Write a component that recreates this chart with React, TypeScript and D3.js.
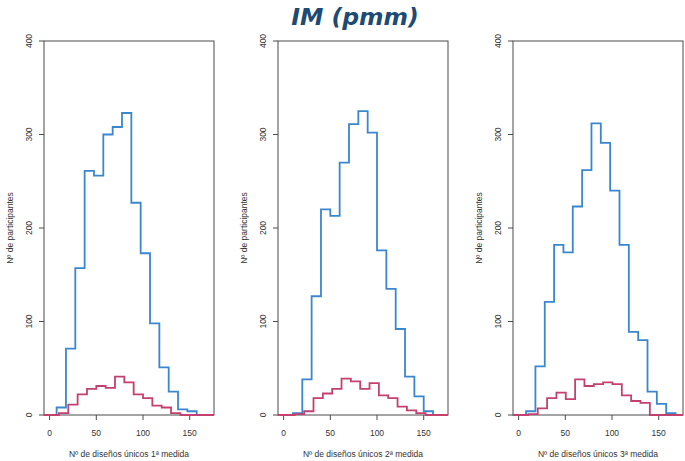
import React from "react";
import * as d3 from "d3";

// Histogram bins: edges of width 10 from 0 to 170
const binEdges = [0, 10, 20, 30, 40, 50, 60, 70, 80, 90, 100, 110, 120, 130, 140, 150, 160, 170];

// Counts per bin, first / second / third measurement
const blue1 = [0, 8, 71, 157, 261, 256, 300, 308, 323, 227, 173, 98, 51, 25, 6, 4, 0];
const pink1 = [0, 2, 11, 22, 28, 31, 29, 41, 35, 22, 18, 10, 8, 2, 0, 0, 0];
const blue2 = [0, 2, 38, 127, 220, 213, 270, 311, 325, 302, 176, 135, 92, 41, 20, 4, 0];
const pink2 = [0, 1, 4, 18, 23, 28, 39, 36, 28, 34, 21, 18, 9, 5, 2, 0, 0];
const blue3 = [0, 4, 52, 121, 182, 174, 223, 262, 312, 291, 240, 182, 89, 80, 25, 12, 2];
const pink3 = [0, 1, 7, 18, 24, 17, 38, 31, 33, 35, 33, 21, 15, 13, 0, 0, 0];

const xTicks = [0, 50, 100, 150];
const yTicks = [0, 100, 200, 300, 400];
const xTitles = [
  "Nº de diseños únicos 1ª medida",
  "Nº de diseños únicos 2ª medida",
  "Nº de diseños únicos 3ª medida",
];
const yTitle = "Nº de participantes";
const title = "IM (pmm)";

const W = 685;
const H = 461;
const BLUE = "#3a87cd";
const PINK = "#c4406e";
const AXIS = "#4a4a4a";
const FONT = "'Liberation Sans', Arial, sans-serif";

const panels = [
  { left: 44, blue: blue1, pink: pink1, blueShift: -2.5, pinkShift: 0 },
  { left: 278, blue: blue2, pink: pink2, blueShift: 0, pinkShift: 2 },
  { left: 513, blue: blue3, pink: pink3, blueShift: -2, pinkShift: 0.5 },
];
const plotW = 170;
const top = 41;
const bottom = 415;
const xDomain: [number, number] = [-6, 176];

function stepPath(values: number[], shift: number, x: d3.ScaleLinear<number, number>, y: d3.ScaleLinear<number, number>) {
  const pts: [number, number][] = [[xDomain[0], 0]];
  values.forEach((v, i) => pts.push([binEdges[i] + shift, v]));
  pts.push([binEdges[values.length] + shift, 0]);
  pts.push([xDomain[1], 0]);
  const line = d3
    .line<[number, number]>()
    .x((d) => x(d[0]))
    .y((d) => y(d[1]))
    .curve(d3.curveStepAfter);
  return line(pts) || "";
}

function Panel({ idx }: { idx: number }) {
  const p = panels[idx];
  const x = d3.scaleLinear().domain(xDomain).range([p.left, p.left + plotW]);
  const y = d3.scaleLinear().domain([0, 400]).range([bottom, top]);
  const cx = p.left + plotW / 2;
  const cy = (top + bottom) / 2;
  return (
    <g>
      <rect x={p.left} y={top} width={plotW} height={bottom - top} fill="none" stroke={AXIS} strokeWidth={1} />
      {yTicks.map((t) => (
        <g key={"y" + t}>
          <line x1={p.left - 5} x2={p.left} y1={y(t)} y2={y(t)} stroke={AXIS} strokeWidth={1} />
          <text
            transform={`translate(${p.left - 12},${y(t)}) rotate(-90)`}
            textAnchor="middle"
            fontSize={8.5}
            fontFamily={FONT}
            fill="#333"
          >
            {t}
          </text>
        </g>
      ))}
      {xTicks.map((t) => (
        <g key={"x" + t}>
          <line x1={x(t)} x2={x(t)} y1={bottom} y2={bottom + 5} stroke={AXIS} strokeWidth={1} />
          <text x={x(t)} y={bottom + 21} textAnchor="middle" fontSize={8.5} fontFamily={FONT} fill="#333">
            {t}
          </text>
        </g>
      ))}
      <path d={stepPath(p.blue, p.blueShift, x, y)} fill="none" stroke={BLUE} strokeWidth={1.8} />
      <path d={stepPath(p.pink, p.pinkShift, x, y)} fill="none" stroke={PINK} strokeWidth={1.8} />
      <text x={cx} y={bottom + 42} textAnchor="middle" fontSize={8.5} fontFamily={FONT} fill="#333">
        {xTitles[idx]}
      </text>
      <text
        transform={`translate(${p.left - 31},${cy}) rotate(-90)`}
        textAnchor="middle"
        fontSize={8.5}
        fontFamily={FONT}
        fill="#333"
      >
        {yTitle}
      </text>
    </g>
  );
}

export default function App() {
  return (
    <svg
      width={W}
      height={H}
      viewBox={`0 0 ${W} ${H}`}
      style={{ position: "absolute", left: 0, top: 0, background: "#fff" }}
    >
      <rect width={W} height={H} fill="#fff" />
      <text
        x={355}
        y={25}
        textAnchor="middle"
        fontSize={23.5}
        fontWeight="bold"
        fontStyle="italic"
        fontFamily="'DejaVu Sans', sans-serif"
        fill="#1d4b73"
      >
        {title}
      </text>
      {panels.map((_, i) => (
        <Panel key={i} idx={i} />
      ))}
    </svg>
  );
}
